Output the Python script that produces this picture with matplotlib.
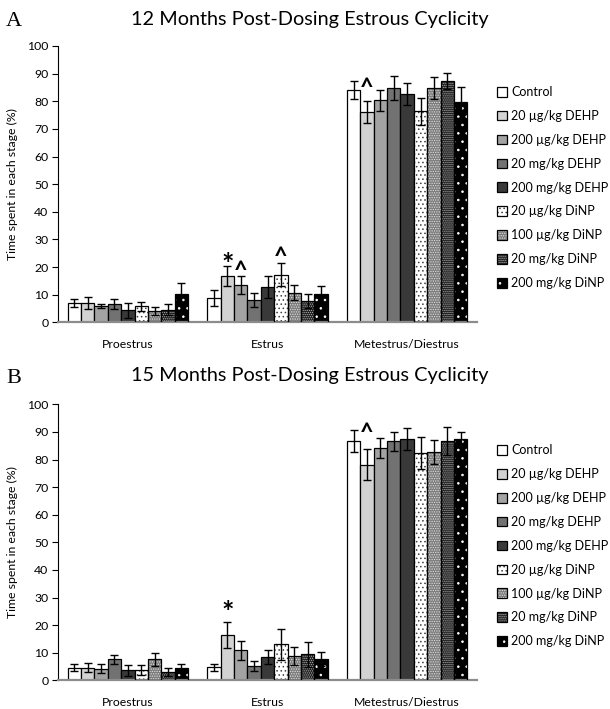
import matplotlib
matplotlib.use('Agg')
import matplotlib.pyplot as plt
from matplotlib.patches import Patch
import numpy as np

stages = ['Proestrus', 'Estrus', 'Metestrus/Diestrus']
groups = ['Control', '20 µg/kg DEHP', '200 µg/kg DEHP', '20 mg/kg DEHP', '200 mg/kg DEHP',
          '20 µg/kg DiNP', '100 µg/kg DiNP', '20 mg/kg DiNP', '200 mg/kg DiNP']

# 12 months post-dosing: mean per group [Proestrus, Estrus, Metestrus/Diestrus]
m12_mean = [
    [7.0, 8.8, 84.2],
    [7.1, 16.6, 76.1],
    [5.9, 13.6, 80.4],
    [6.6, 8.0, 84.9],
    [4.3, 12.8, 82.5],
    [5.8, 17.3, 76.3],
    [4.0, 10.7, 84.9],
    [4.6, 7.7, 87.5],
    [10.4, 10.4, 79.6],
]
m12_err = [
    [1.5, 3.0, 3.3],
    [2.2, 3.6, 4.0],
    [0.9, 3.3, 3.8],
    [1.8, 2.6, 4.4],
    [2.8, 4.0, 4.0],
    [1.7, 4.3, 4.8],
    [1.4, 2.8, 4.0],
    [2.0, 2.4, 2.9],
    [3.7, 2.9, 5.5],
]
# 15 months post-dosing
m15_mean = [
    [4.6, 4.7, 86.7],
    [4.6, 16.4, 78.1],
    [4.2, 10.9, 84.1],
    [7.6, 5.1, 86.6],
    [3.6, 8.3, 87.4],
    [3.6, 13.0, 82.2],
    [7.6, 8.7, 82.8],
    [3.0, 9.4, 86.7],
    [4.3, 7.6, 87.4],
]
m15_err = [
    [1.4, 1.3, 4.0],
    [1.5, 4.8, 5.6],
    [1.7, 3.4, 3.6],
    [1.7, 1.8, 3.5],
    [1.9, 2.5, 4.0],
    [1.8, 5.6, 5.8],
    [2.4, 3.3, 4.4],
    [1.4, 4.5, 5.2],
    [1.7, 2.5, 2.5],
]
# significance marks: (stage index, group index, symbol)
m12_marks = [(1, 1, '*'), (1, 2, '^'), (1, 5, '^'), (2, 1, '^')]
m15_marks = [(1, 1, '*'), (2, 1, '^')]

titles = ['12 Months Post-Dosing Estrous Cyclicity', '15 Months Post-Dosing Estrous Cyclicity']
panel_letters = ['A', 'B']
yticks = list(range(0, 101, 10))

# styles
faces = ['white', '#d2d2d2', '#a3a3a3', '#727272', '#393939', 'white', '#7c7c7c', '#1e1e1e', 'black']
hatches = [None, None, None, None, None, '....', '.......', '........', '..']
hcolors = [None, None, None, None, None, '#404040', '#e0e0e0', '#b0b0b0', 'white']
# vertical gap (axis units) between error cap and mark text bottom
mark_gaps = [[-4.2, -2.7, -2.3, 0.4], [-1.4, 1.6]]
mark_sizes = {'*': 21, '^': 17}

FONT = ['Lato', 'DejaVu Sans']
plt.rcParams['font.family'] = FONT
plt.rcParams['hatch.linewidth'] = 0.6

fig = plt.figure(figsize=(6.10, 7.09), dpi=100)
ax_pos = [[58/610, 1-322.3/709, 419/610, (322.3-46)/709],
          [58/610, 1-680.3/709, 419/610, (680.3-404.3)/709]]
title_y = [1-19/709, 1-376/709]

w = 0.0955
xs = np.arange(len(stages))
legend_handles = []

for p, (means, errs, marks) in enumerate([(m12_mean, m12_err, m12_marks),
                                          (m15_mean, m15_err, m15_marks)]):
    ax = fig.add_axes(ax_pos[p])
    means = np.array(means)
    errs = np.array(errs)
    for i in range(len(groups)):
        xi = xs + (i - 4) * w
        if hatches[i]:
            ax.bar(xi, means[i], w, color=faces[i], edgecolor=hcolors[i],
                   linewidth=0, hatch=hatches[i], zorder=2)
            ax.bar(xi, means[i], w, fill=False, edgecolor='black', linewidth=0.9, zorder=3)
            h = (Patch(facecolor=faces[i], edgecolor=hcolors[i], linewidth=0, hatch=hatches[i]),
                 Patch(fill=False, edgecolor='black', linewidth=0.9))
        else:
            ax.bar(xi, means[i], w, color=faces[i], edgecolor='black', linewidth=0.9, zorder=2)
            h = Patch(facecolor=faces[i], edgecolor='black', linewidth=0.9)
        if p == 0:
            legend_handles.append(h)
        ax.errorbar(xi, means[i], yerr=errs[i], fmt='none', ecolor='black',
                    elinewidth=1.0, capsize=3, capthick=1.0, zorder=4)
    for k, (s, g, sym) in enumerate(marks):
        xm = xs[s] + (g - 4) * w
        top = means[g][s] + errs[g][s] + mark_gaps[p][k]
        ax.text(xm, top, sym, ha='center', va='bottom', fontsize=mark_sizes[sym],
                fontweight='bold', family=FONT, zorder=5)
    ax.set_xlim(-0.5, 2.5)
    ax.set_ylim(0, 100)
    ax.set_yticks(yticks)
    ax.set_yticklabels([str(t) for t in yticks], fontsize=8.8)
    ax.set_xticks(xs)
    ax.set_xticklabels(stages, fontsize=8.8)
    ax.tick_params(axis='x', length=0, pad=12)
    ax.tick_params(axis='y', length=4, width=0.8, pad=3)
    for sp in ['top', 'right']:
        ax.spines[sp].set_visible(False)
    ax.spines['left'].set_linewidth(0.8)
    ax.spines['bottom'].set_color('#8c8c8c')
    ax.spines['bottom'].set_linewidth(1.6)
    ax.set_ylabel('Time spent in each stage (%)', fontsize=8.8)
    ax.yaxis.set_label_coords(-0.095, 0.5)
    fig.text(0.508, title_y[p], titles[p], ha='center', va='center', fontsize=14.3, family=FONT)
    fig.text(0.022, title_y[p] - 0.003, panel_letters[p], ha='center', va='center', fontsize=16,
             family=['Liberation Serif', 'DejaVu Serif'])
    ax.legend(legend_handles, groups, loc='upper left',
              bbox_to_anchor=(1.047, 0.855), frameon=False, fontsize=9,
              handlelength=0.8, handleheight=0.8, handletextpad=0.35,
              labelspacing=0.95, borderaxespad=0, borderpad=0)

fig.savefig('out.png', dpi=100)
